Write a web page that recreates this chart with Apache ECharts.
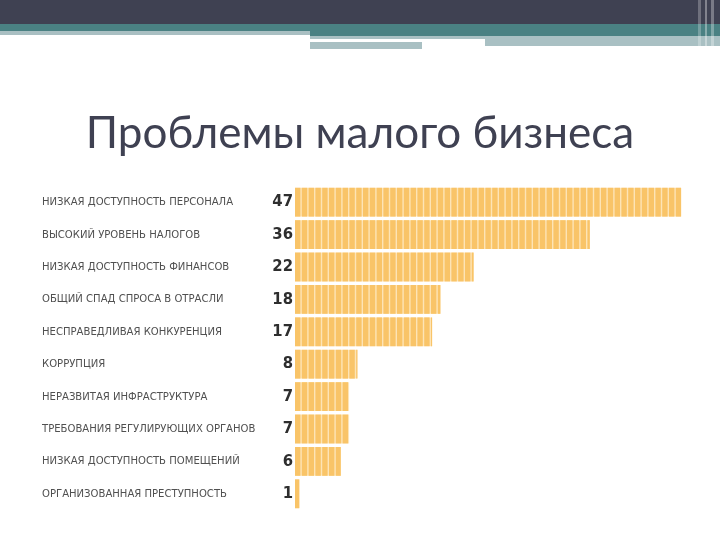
<!DOCTYPE html>
<html>
<head>
<meta charset="utf-8">
<script src="https://cdn.jsdelivr.net/npm/echarts@6/dist/echarts.min.js"></script>
<style>html,body{margin:0;padding:0;background:#fff}#c{width:720px;height:540px}</style>
</head>
<body>
<div id="c"></div>
<script>
var titleText = 'Проблемы малого бизнеса';
var categories = [
  'НИЗКАЯ ДОСТУПНОСТЬ ПЕРСОНАЛА',
  'ВЫСОКИЙ УРОВЕНЬ НАЛОГОВ',
  'НИЗКАЯ ДОСТУПНОСТЬ ФИНАНСОВ',
  'ОБЩИЙ СПАД СПРОСА В ОТРАСЛИ',
  'НЕСПРАВЕДЛИВАЯ КОНКУРЕНЦИЯ',
  'КОРРУПЦИЯ',
  'НЕРАЗВИТАЯ ИНФРАСТРУКТУРА',
  'ТРЕБОВАНИЯ РЕГУЛИРУЮЩИХ ОРГАНОВ',
  'НИЗКАЯ ДОСТУПНОСТЬ ПОМЕЩЕНИЙ',
  'ОРГАНИЗОВАННАЯ ПРЕСТУПНОСТЬ'
];
var values = [47, 36, 22, 18, 17, 8, 7, 7, 6, 1];

var chart = echarts.init(document.getElementById('c'), null, {renderer: 'canvas'});

function renderItem(params, api) {
  var v = api.value(0), idx = api.value(1);
  var start = api.coord([0, idx]);
  var end = api.coord([v, idx]);
  var h = api.size([0, 1])[1] * 0.89;
  var x0 = start[0] + 4, x1 = end[0];
  var y0 = start[1] - h / 2;
  var seg = 6.8, gap = 1.4;
  var children = [{type: 'rect', shape: {x: x0, y: y0, width: x1 - x0, height: h}, style: {fill: '#fde4b6'}}];
  for (var x = x0; x < x1 - 0.5; x += seg) {
    var w = Math.min(seg - gap, x1 - x);
    children.push({type: 'rect', shape: {x: x, y: y0, width: w, height: h}, style: {fill: '#f9c468'}});
  }
  return {type: 'group', children: children};
}

var NARROW = '"DejaVu Sans Condensed", "Liberation Sans Narrow", sans-serif';

chart.setOption({
  backgroundColor: '#ffffff',
  animation: false,
  title: {
    text: titleText,
    left: 'center',
    top: 107,
    textStyle: {fontFamily: 'Lato, "Open Sans", sans-serif', fontSize: 44, fontWeight: 'normal', color: '#3f4152'}
  },
  graphic: [
    {type: 'rect', shape: {x: 0, y: 0, width: 720, height: 24}, style: {fill: '#3f4152'}},
    {type: 'rect', shape: {x: 0, y: 24, width: 310, height: 7}, style: {fill: '#4a8183'}},
    {type: 'rect', shape: {x: 0, y: 31, width: 310, height: 4}, style: {fill: '#a9bfc2'}},
    {type: 'rect', shape: {x: 310, y: 24, width: 410, height: 12}, style: {fill: '#4a8183'}},
    {type: 'rect', shape: {x: 310, y: 36, width: 410, height: 10}, style: {fill: '#a9c0c3'}},
    {type: 'rect', shape: {x: 310, y: 39, width: 175, height: 3}, style: {fill: '#ffffff'}},
    {type: 'rect', shape: {x: 310, y: 42, width: 112, height: 7}, style: {fill: '#a9c0c3'}},
    {type: 'rect', shape: {x: 422, y: 42, width: 63, height: 4}, style: {fill: '#ffffff'}},
    {type: 'rect', shape: {x: 698, y: 0, width: 3, height: 46}, style: {fill: '#ffffff', opacity: 0.25}},
    {type: 'rect', shape: {x: 705, y: 0, width: 2, height: 46}, style: {fill: '#ffffff', opacity: 0.35}},
    {type: 'rect', shape: {x: 711, y: 0, width: 3, height: 46}, style: {fill: '#ffffff', opacity: 0.3}}
  ],
  grid: {left: 291, right: 14, top: 186, bottom: 30, containLabel: false},
  xAxis: {
    type: 'value', min: 0, max: 50,
    show: false
  },
  yAxis: [
    {
      type: 'category', inverse: true, data: categories, position: 'left',
      axisLine: {show: false}, axisTick: {show: false}, splitLine: {show: false},
      axisLabel: {align: 'left', margin: 249, fontFamily: NARROW, fontSize: 11.2, color: '#505050'}
    },
    {
      type: 'category', inverse: true, data: values.map(String), position: 'left', offset: -2,
      axisLine: {show: false}, axisTick: {show: false}, splitLine: {show: false},
      axisLabel: {align: 'right', margin: 0, fontFamily: NARROW, fontSize: 16.5, fontWeight: 'bold', color: '#2e2e2e'}
    }
  ],
  series: [{
    type: 'custom',
    renderItem: renderItem,
    xAxisIndex: 0, yAxisIndex: 0,
    encode: {x: 0, y: 1},
    data: values.map(function (v, i) { return [v, i]; })
  }]
});
</script>
</body>
</html>
